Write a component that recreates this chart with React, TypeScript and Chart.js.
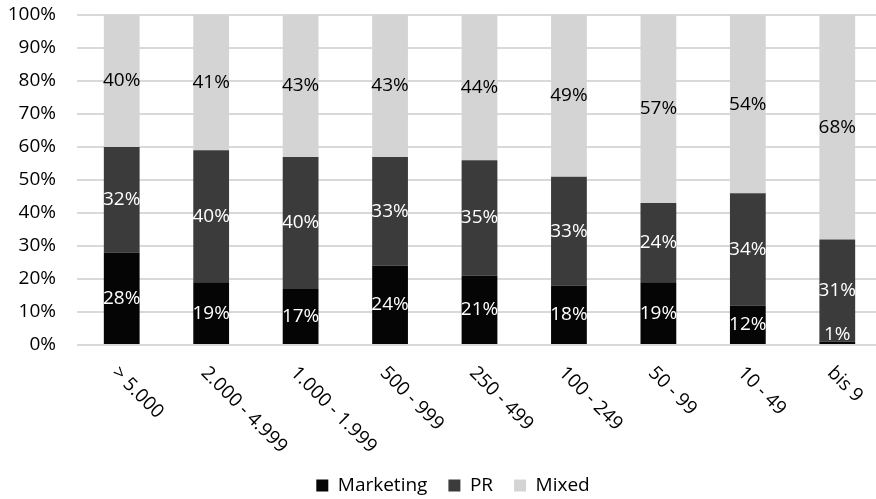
import React, { useEffect, useRef } from "react";
import { Chart, registerables } from "chart.js";

Chart.register(...registerables);

const categories = [
  "> 5.000",
  "2.000 - 4.999",
  "1.000 - 1.999",
  "500 - 999",
  "250 - 499",
  "100 - 249",
  "50 - 99",
  "10 - 49",
  "bis 9",
];
const marketing = [28, 19, 17, 24, 21, 18, 19, 12, 1];
const pr = [32, 40, 40, 33, 35, 33, 24, 34, 31];
const mixed = [40, 41, 43, 43, 44, 49, 57, 54, 68];
const seriesNames = ["Marketing", "PR", "Mixed"];
const seriesColors = ["#050505", "#3b3b3b", "#d4d4d4"];
const labelColors = ["#ffffff", "#ffffff", "#000000"];

const FONT = "'Open Sans', sans-serif";
const FS = 19;
const PAD_LEFT = 24;
const PAD_TOP = 15;
const CANVAS_W = 882;
const CANVAS_H = 505;
const PLOT_BOTTOM = 345;

const dataLabelPlugin = {
  id: "dataLabels",
  afterDatasetsDraw(chart: any) {
    const ctx = chart.ctx;
    ctx.save();
    ctx.font = `${FS}px ${FONT}`;
    ctx.textAlign = "center";
    ctx.textBaseline = "middle";
    chart.data.datasets.forEach((ds: any, di: number) => {
      const meta = chart.getDatasetMeta(di);
      meta.data.forEach((bar: any, i: number) => {
        const v = ds.data[i];
        const { x, y, base } = bar.getProps(["x", "y", "base"], true);
        let cy = (y + base) / 2;
        if (cy > base - 9) cy = base - 9;
        ctx.fillStyle = labelColors[di];
        ctx.fillText(v + "%", x, cy);
      });
    });
    ctx.restore();
  },
};

const axisLabelPlugin = {
  id: "axisLabels",
  afterDraw(chart: any) {
    const ctx = chart.ctx;
    const xs = chart.scales.x;
    const ys = chart.scales.y;
    ctx.save();
    ctx.font = `${FS}px ${FONT}`;
    ctx.fillStyle = "#000000";
    // y tick labels
    ctx.textAlign = "right";
    ctx.textBaseline = "middle";
    ys.ticks.forEach((t: any) => {
      ctx.fillText(t.value + "%", chart.chartArea.left - 21, ys.getPixelForValue(t.value));
    });
    // rotated category labels
    ctx.textAlign = "left";
    categories.forEach((c, i) => {
      const px = xs.getPixelForValue(i);
      ctx.save();
      ctx.translate(px - 7, chart.chartArea.bottom + 25);
      ctx.rotate(Math.PI / 4);
      ctx.fillText(c, 0, 0);
      ctx.restore();
    });
    ctx.restore();
  },
};

export default function App() {
  const ref = useRef<HTMLCanvasElement | null>(null);
  useEffect(() => {
    if (!ref.current) return;
    const values = [marketing, pr, mixed];
    const chart = new Chart(ref.current, {
      type: "bar",
      data: {
        labels: categories,
        datasets: seriesNames.map((n, i) => ({
          label: n,
          data: values[i],
          backgroundColor: seriesColors[i],
          borderWidth: 0,
          barPercentage: 0.4,
          categoryPercentage: 1,
        })),
      },
      options: {
        responsive: false,
        animation: false,
        layout: { padding: { top: PAD_TOP, right: 0, left: PAD_LEFT, bottom: 0 } },
        plugins: {
          tooltip: { enabled: false },
          legend: {
            position: "bottom",
            labels: {
              font: { family: FONT, size: FS },
              color: "#000000",
              boxWidth: 12,
              boxHeight: 12,
              padding: 21,
            },
          },
        },
        scales: {
          x: {
            stacked: true,
            grid: { display: false },
            border: { display: false },
            ticks: { display: false },
            afterFit: (axis: any) => {
              const lh = axis.chart.legend ? axis.chart.legend.height : 49;
              axis.height = CANVAS_H - PLOT_BOTTOM - lh;
            },
          },
          y: {
            stacked: true,
            min: 0,
            max: 100,
            border: { display: false },
            grid: { color: "#d9d9d9", lineWidth: 2, drawTicks: false },
            ticks: {
              stepSize: 10,
              display: false,
            },
            afterFit: (axis: any) => {
              axis.width = 77 - PAD_LEFT;
            },
          },
        },
      },
      plugins: [dataLabelPlugin, axisLabelPlugin],
    });
    return () => chart.destroy();
  }, []);
  return (
    <div
      style={{
        position: "fixed",
        left: 0,
        top: 0,
        width: 876,
        height: 499,
        overflow: "hidden",
        background: "#fff",
      }}
    >
      <canvas
        ref={ref}
        width={CANVAS_W}
        height={CANVAS_H}
        style={{ display: "block", position: "absolute", left: 0, top: 0 }}
      />
    </div>
  );
}
